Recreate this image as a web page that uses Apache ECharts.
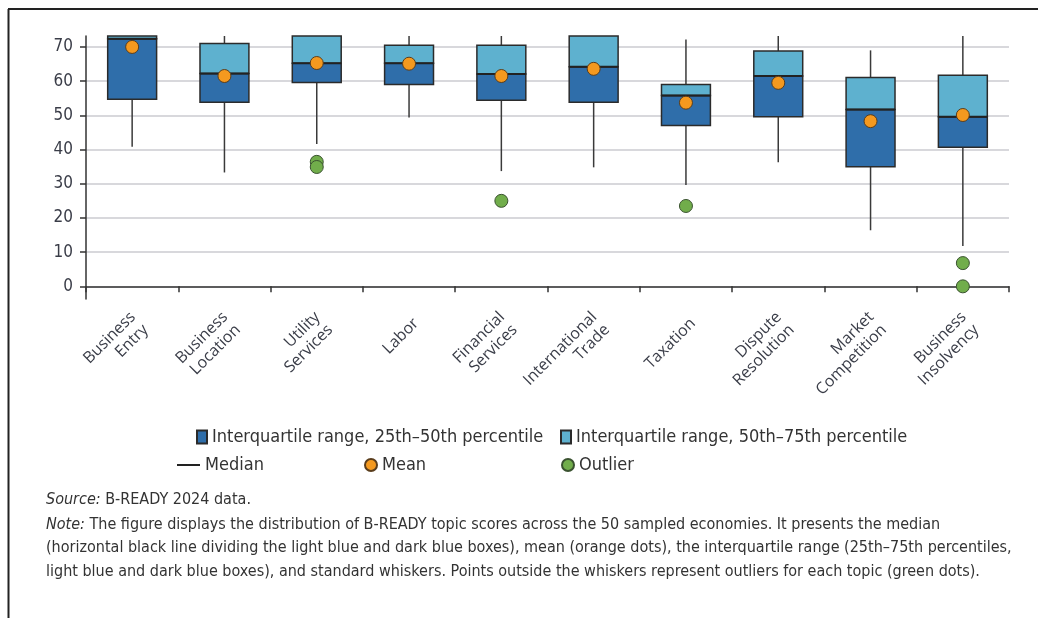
<!DOCTYPE html>
<html>
<head>
<meta charset="utf-8">
<script src="https://cdn.jsdelivr.net/npm/echarts@6/dist/echarts.min.js"></script>
<style>
  html, body { margin: 0; padding: 0; background: #fff; }
  #chart { width: 1038px; height: 618px; }
</style>
</head>
<body>
<div id="chart"></div>
<script>
var FONT = "'DejaVu Sans Condensed', 'Liberation Sans Narrow', sans-serif";
var LABEL_FONT = "'Open Sans', 'Noto Sans', sans-serif";

// topics on the x axis
var categories = ['Business\nEntry', 'Business\nLocation', 'Utility\nServices', 'Labor', 'Financial\nServices',
    'International\nTrade', 'Taxation', 'Dispute\nResolution', 'Market\nCompetition', 'Business\nInsolvency'];
// whisker ends, quartiles and median (values above ~73 are cut off by the plot top)
var whiskerLow  = [40.8, 33.3, 41.6, 49.4, 33.7, 34.8, 29.6, 36.3, 16.4, 11.8];
var q1          = [54.7, 53.8, 59.6, 59.0, 54.4, 53.8, 47.0, 49.6, 35.0, 40.7];
var median      = [72.4, 62.2, 65.2, 65.2, 62.1, 64.2, 55.8, 61.5, 51.7, 49.6];
var q3          = [78.0, 71.0, 77.0, 70.5, 70.5, 77.0, 59.0, 68.8, 61.1, 61.7];
var whiskerHigh = [90.0, 85.0, 88.0, 82.0, 84.0, 88.0, 72.2, 84.0, 69.0, 84.0];
var mean        = [70.0, 61.5, 65.3, 65.1, 61.5, 63.6, 53.7, 59.5, 48.3, 50.1];
// outliers: [topic index, score]
var outliers = [[2, 36.4], [2, 34.9], [4, 25.0], [6, 23.5], [9, 6.8], [9, 0]];
var yTicks = [0, 10, 20, 30, 40, 50, 60, 70];

var names = {
    low: 'Interquartile range, 25th\u201350th percentile',
    high: 'Interquartile range, 50th\u201375th percentile',
    median: 'Median',
    mean: 'Mean',
    outlier: 'Outlier'
};

var DARK = '#2f6eaa', LIGHT = '#5eb1cf', EDGE = '#2b2b2b';
var BOX_W = 0.53;

function boxRender(color) {
    return function (params, api) {
        var i = api.value(0);
        var a = api.coord([i, api.value(1)]);
        var b = api.coord([i, api.value(2)]);
        var w = api.size([1, 0])[0] * BOX_W;
        var rect = echarts.graphic.clipRectByRect({
            x: a[0] - w / 2, y: b[1], width: w, height: a[1] - b[1]
        }, params.coordSys);
        if (!rect) return;
        return {
            type: 'rect', shape: rect,
            style: { fill: color, stroke: EDGE, lineWidth: 1.5 }
        };
    };
}

function clipY(y, cs) {
    return Math.max(cs.y, Math.min(cs.y + cs.height, y));
}

var legendText = { fontFamily: FONT, fontSize: 18, color: '#333' };

var chart = echarts.init(document.getElementById('chart'), null, { renderer: 'canvas' });

var option = {
    animation: false,
    backgroundColor: '#fff',
    grid: { left: 86, right: 29, top: 36, bottom: 319 },
    xAxis: {
        type: 'category',
        data: categories,
        axisLine: { lineStyle: { color: '#333', width: 1.5 } },
        axisTick: { show: true, length: 6, lineStyle: { color: '#333', width: 1.5 } },
        axisLabel: {
            interval: 0, rotate: 45, margin: 29, padding: [0, -10, 0, 0],
            fontFamily: LABEL_FONT, fontSize: 16, lineHeight: 18, color: '#3a3d48'
        },
        splitLine: { show: false }
    },
    yAxis: {
        type: 'value',
        min: -3.7, max: 73.2,
        axisLine: { show: true, lineStyle: { color: '#333', width: 1.5 } },
        axisTick: { show: true, length: 6, customValues: yTicks, lineStyle: { color: '#333', width: 1.5 } },
        axisLabel: { customValues: yTicks, margin: 13, fontFamily: FONT, fontSize: 17, color: '#3a3d48' },
        splitLine: { show: true, lineStyle: { color: '#d8d8dc', width: 2 } }
    },
    legend: [
        { data: [names.low], left: 191, top: 423, icon: 'rect', itemWidth: 10, itemHeight: 13, itemGap: 4, textStyle: legendText },
        { data: [names.high], left: 555, top: 423, icon: 'rect', itemWidth: 10, itemHeight: 13, textStyle: legendText },
        { data: [names.median], left: 172, top: 451, icon: 'rect', itemWidth: 23, itemHeight: 2, textStyle: legendText },
        { data: [names.mean], left: 359, top: 451, icon: 'circle', itemWidth: 12, itemHeight: 12, textStyle: legendText },
        { data: [names.outlier], left: 556, top: 451, icon: 'circle', itemWidth: 12, itemHeight: 12, textStyle: legendText }
    ],
    graphic: [
        { type: 'line', shape: { x1: 8, y1: 9, x2: 1038, y2: 9 }, style: { stroke: '#222', lineWidth: 2 } },
        { type: 'line', shape: { x1: 8.5, y1: 9, x2: 8.5, y2: 618 }, style: { stroke: '#222', lineWidth: 2 } },
        {
            type: 'text', left: 46, top: 492,
            style: {
                text: '{i|Source:} B-READY 2024 data.',
                font: '16px ' + FONT, fill: '#333',
                rich: { i: { fontStyle: 'italic', fontFamily: FONT, fontSize: 16, fill: '#333' } }
            }
        },
        {
            type: 'text', left: 46, top: 513,
            style: {
                text: '{i|Note:} The figure displays the distribution of B-READY topic scores across the 50 sampled economies. It presents the median\n' +
                      '(horizontal black line dividing the light blue and dark blue boxes), mean (orange dots), the interquartile range (25th\u201375th percentiles,\n' +
                      'light blue and dark blue boxes), and standard whiskers. Points outside the whiskers represent outliers for each topic (green dots).',
                font: '16px ' + FONT, fill: '#333', lineHeight: 23.5,
                rich: { i: { fontStyle: 'italic', fontFamily: FONT, fontSize: 16, fill: '#333', lineHeight: 23.5 } }
            }
        }
    ],
    series: [
        {
            name: 'Whisker',
            type: 'custom',
            data: categories.map(function (c, i) { return [i, whiskerLow[i], q1[i], q3[i], whiskerHigh[i]]; }),
            renderItem: function (params, api) {
                var i = api.value(0), cs = params.coordSys;
                var x = api.coord([i, 0])[0];
                var lo = api.coord([i, api.value(1)])[1], b1 = api.coord([i, api.value(2)])[1];
                var b3 = api.coord([i, api.value(3)])[1], hi = api.coord([i, api.value(4)])[1];
                var st = { stroke: '#3a3a3a', lineWidth: 1.5 };
                return {
                    type: 'group',
                    children: [
                        { type: 'line', shape: { x1: x, y1: clipY(lo, cs), x2: x, y2: clipY(b1, cs) }, style: st },
                        { type: 'line', shape: { x1: x, y1: clipY(b3, cs), x2: x, y2: clipY(hi, cs) }, style: st }
                    ]
                };
            },
            z: 2
        },
        {
            name: names.low,
            type: 'custom',
            itemStyle: { color: DARK, borderColor: EDGE, borderWidth: 1 },
            data: categories.map(function (c, i) { return [i, q1[i], median[i]]; }),
            renderItem: boxRender(DARK),
            z: 3
        },
        {
            name: names.high,
            type: 'custom',
            itemStyle: { color: LIGHT, borderColor: EDGE, borderWidth: 1 },
            data: categories.map(function (c, i) { return [i, median[i], q3[i]]; }),
            renderItem: boxRender(LIGHT),
            z: 3
        },
        {
            name: names.median,
            type: 'custom',
            itemStyle: { color: '#222' },
            data: categories.map(function (c, i) { return [i, median[i]]; }),
            renderItem: function (params, api) {
                var i = api.value(0), cs = params.coordSys;
                var p = api.coord([i, api.value(1)]);
                if (p[1] < cs.y) return;
                var w = api.size([1, 0])[0] * BOX_W;
                return {
                    type: 'line',
                    shape: { x1: p[0] - w / 2, y1: p[1], x2: p[0] + w / 2, y2: p[1] },
                    style: { stroke: '#222', lineWidth: 2 }
                };
            },
            z: 4
        },
        {
            name: names.mean,
            type: 'scatter',
            data: categories.map(function (c, i) { return [i, mean[i]]; }),
            symbolSize: 13,
            itemStyle: { color: '#f4991f', borderColor: '#5a3d1c', borderWidth: 1, opacity: 1 },
            z: 5
        },
        {
            name: names.outlier,
            type: 'scatter',
            data: outliers,
            symbolSize: 13,
            itemStyle: { color: '#71ad4b', borderColor: '#3a5230', borderWidth: 1, opacity: 1 },
            z: 5
        }
    ]
};

chart.setOption(option);
</script>
</body>
</html>
